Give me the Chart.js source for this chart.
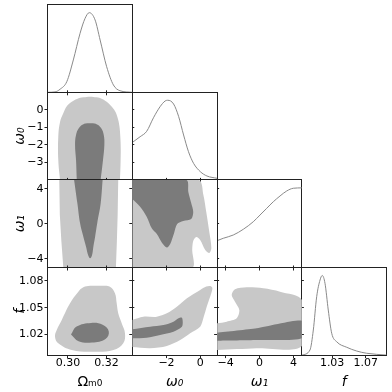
<!DOCTYPE html>
<html>
<head>
<meta charset="utf-8">
<script src="https://cdn.jsdelivr.net/npm/chart.js@4.4.1/dist/chart.umd.min.js"></script>
<style>
  html, body { margin: 0; padding: 0; background: #fff; }
  #wrap { position: relative; width: 392px; height: 392px; overflow: hidden; }
  #wrap canvas { position: absolute; left: 0; top: 0; }
</style>
</head>
<body>
<div id="wrap"></div>
<script>
// tick values
const omTicks = [0.30, 0.32];
const w0TicksX = [-2, 0];
const w0TicksY = [0, -1, -2, -3];
const w1Ticks = [-4, 0, 4];
const fTicksX = [1.03, 1.07];
const fTicksY = [1.02, 1.05, 1.08];

// 1D marginals (x, relative density)
const omCurveX = [0.2894, 0.2933, 0.2959, 0.2994, 0.3028, 0.3063, 0.3089, 0.3111, 0.3141, 0.3167, 0.3201, 0.3236, 0.3270, 0.3334];
const omCurveY = [0, 0.005, 0.038, 0.133, 0.406, 0.741, 0.929, 1.0, 0.908, 0.657, 0.321, 0.092, 0.02, 0];
const w0CurveX = [-4.02, -3.56, -3.17, -2.77, -2.38, -2.08, -1.93, -1.58, -1.28, -0.99, -0.70, -0.40, 0.0, 0.39, 0.99];
const w0CurveY = [0.47, 0.542, 0.61, 0.78, 0.919, 0.991, 1.0, 0.953, 0.794, 0.564, 0.354, 0.208, 0.103, 0.049, 0.02];
const w1CurveX = [-5, -4.27, -3.09, -1.91, -0.73, 0.06, 0.85, 1.63, 2.42, 3.21, 3.99, 5];
const w1CurveY = [0.337, 0.367, 0.408, 0.48, 0.575, 0.659, 0.743, 0.826, 0.898, 0.961, 0.995, 1.0];
const fCurveX = [0.994, 1.0036, 1.0076, 1.0116, 1.0156, 1.0183, 1.0215, 1.0254, 1.0295, 1.0354, 1.0474, 1.0593, 1.0712, 1.095];
const fCurveY = [0, 0.064, 0.315, 0.733, 0.943, 1.0, 0.902, 0.566, 0.274, 0.168, 0.098, 0.051, 0.023, 0];

// 2D contours, outer (95%) and inner (68%)
const omW0Outer = [[0.2959, -4.01], [0.2950, -2.87], [0.2950, -1.53], [0.2959, -0.69], [0.2976, -0.19], [0.2995, 0.23], [0.3020, 0.47], [0.3047, 0.63], [0.3080, 0.72], [0.3115, 0.76], [0.3149, 0.72], [0.3177, 0.63], [0.3201, 0.47], [0.3224, 0.23], [0.3244, -0.06], [0.3257, -0.42], [0.3267, -0.92], [0.3272, -1.57], [0.3274, -2.23], [0.3273, -3.09], [0.3270, -4.01]];
const omW0Inner = [[0.3046, -4.01], [0.3042, -2.87], [0.3037, -2.01], [0.3042, -1.44], [0.3057, -1.04], [0.3083, -0.81], [0.3115, -0.77], [0.3146, -0.81], [0.3172, -1.04], [0.3186, -1.44], [0.3189, -2.01], [0.3182, -2.87], [0.3170, -4.01]];
const omW1Outer = [[0.2955, 5], [0.2958, 1], [0.2966, -2], [0.2976, -5], [0.3249, -5], [0.3254, -2], [0.3258, 1], [0.3261, 5]];
const omW1Inner = [[0.3032, 5], [0.3049, 2.33], [0.3063, 0.05], [0.3080, -1.48], [0.3094, -2.63], [0.3105, -3.6], [0.3115, -3.95], [0.3125, -3.6], [0.3132, -2.63], [0.3141, -1.48], [0.3152, 0.05], [0.3170, 2.33], [0.3180, 5]];
const omFOuter = [[0.3115, 1.0745], [0.3080, 1.0728], [0.3054, 1.0679], [0.3011, 1.0549], [0.2968, 1.0363], [0.2942, 1.0251], [0.2933, 1.0176], [0.2950, 1.0102], [0.3020, 1.0027], [0.3132, 1.0008], [0.3236, 1.0027], [0.3287, 1.0102], [0.3296, 1.0214], [0.3279, 1.0326], [0.3261, 1.0437], [0.3253, 1.0549], [0.3244, 1.0661], [0.3218, 1.0735], [0.3170, 1.0745], [0.3115, 1.0745]];
const omFInner = [[0.3016, 1.0200], [0.3045, 1.0290], [0.3120, 1.0330], [0.3180, 1.0310], [0.3212, 1.0235], [0.3195, 1.0150], [0.3125, 1.0110], [0.3055, 1.0125], [0.3016, 1.0200]];
const w0W1Outer = [[-4.02, 5], [-0.10, 5], [0.18, 3.28], [0.35, 1.34], [0.53, -0.95], [0.65, -2.78], [0.53, -3.35], [0.29, -3.0], [-0.01, -1.86], [-0.24, -1.52], [-0.42, -1.97], [-0.48, -3.0], [-0.48, -5], [-4.02, -5]];
const w0W1Inner = [[-4.02, 5], [-0.83, 5], [-0.71, 3.62], [-0.54, 2.36], [-0.42, 1.34], [-0.54, 0.54], [-1.01, 0.31], [-1.37, -0.03], [-1.55, -1.06], [-1.78, -2.32], [-1.98, -2.72], [-2.26, -2.2], [-2.57, -1.18], [-2.87, -0.53], [-3.17, 0.80], [-3.56, 1.94], [-4.02, 2.82]];
const w0FOuter = [[-4.02, 1.0363], [-3.37, 1.0399], [-2.57, 1.0399], [-1.98, 1.0437], [-1.39, 1.0511], [-0.79, 1.0605], [-0.01, 1.0698], [0.35, 1.0737], [0.59, 1.0743], [0.71, 1.0721], [0.65, 1.0665], [0.41, 1.0530], [0.18, 1.0385], [-0.01, 1.0288], [-0.60, 1.0214], [-1.19, 1.0139], [-1.98, 1.0072], [-2.97, 1.0046], [-4.02, 1.0060]];
const w0FInner = [[-4.02, 1.0258], [-2.97, 1.0288], [-2.18, 1.0307], [-1.59, 1.0344], [-1.29, 1.0382], [-1.09, 1.0388], [-1.04, 1.0340], [-1.09, 1.0288], [-1.59, 1.0232], [-2.38, 1.0195], [-3.17, 1.0164], [-4.02, 1.0158]];
const w1FOuter = [[-5, 1.0326], [-3.87, 1.0344], [-2.69, 1.0382], [-2.38, 1.0474], [-2.89, 1.0567], [-3.28, 1.0642], [-2.89, 1.0706], [-1.51, 1.0728], [0.45, 1.0717], [2.42, 1.0679], [5, 1.0586], [5, 1.0072], [-0.33, 1.0046], [-5, 1.0027]];
const w1FInner = [[-5, 1.0220], [-0.33, 1.0270], [5, 1.0355], [5, 1.0158], [-0.33, 1.0139], [-5, 1.0131]];

// axis ranges per column (x) and per row (y); diagonal panels use densityRange
const xRanges = [[0.2894, 0.3334], [-4.02, 0.99], [-5, 5], [0.994, 1.095]];
const yRanges = [[0, 1.1], [-4.01, 1.01], [-5, 5], [0.997, 1.095]];
const densityRange = [0, 1.1];
const xTickSets = [omTicks, w0TicksX, w1Ticks, fTicksX];
const yTickSets = [null, w0TicksY, w1Ticks, fTicksY];
const xTitles = ['Ωₘ₀', 'ω₀', 'ω₁', 'f'];
const yTitles = ['', 'ω₀', 'ω₁', 'f'];

// layout
const colLeft = [47.5, 132.3, 217.1, 301.9];
const rowTop = [4.7, 92.3, 179.9, 267.5];
const PW = 84.8, PH = 87.6;
const YW = 47, XH = 36.5;
const FONT = "'DejaVu Sans', sans-serif";
const LIGHT = '#c8c8c8', DARK = '#7b7b7b', AXIS = '#222';

const wrap = document.getElementById('wrap');

function fmtTick(v, col) {
    let s;
    if (col === 0 || col === 3) s = v.toFixed(2);
    else s = String(v);
    return s.replace('-', '\u2212');
}

function axis(pos, range, ticks, o) {
    o = o || {};
    const horiz = pos === 'bottom' || pos === 'top';
    const tl = o.tickLen || 0;
    return {
        type: 'linear',
        position: pos,
        min: range[0],
        max: range[1],
        afterBuildTicks: function (s) {
            if (ticks) s.ticks = ticks.map(v => ({ value: v }));
        },
        afterFit: function (s) {
            if (horiz) s.height = pos === 'bottom' ? XH : 0;
            else s.width = pos === 'left' ? YW : 0;
            s.paddingLeft = 0; s.paddingRight = 0; s.paddingTop = 0; s.paddingBottom = 0;
        },
        grid: { drawOnChartArea: false, drawTicks: tl > 0, tickLength: tl, tickColor: AXIS, tickWidth: 1 },
        border: { display: true, color: AXIS, width: 1 },
        ticks: {
            display: !!o.labels,
            autoSkip: false,
            maxRotation: 0,
            padding: horiz ? -0.5 : 1,
            color: '#000',
            font: { family: FONT, size: 11, lineHeight: 1 },
            callback: function (v) { return fmtTick(v, o.col); }
        },
        title: o.title ? {
            display: true,
            text: o.title,
            color: '#000',
            font: { family: FONT, size: 14, style: o.title.startsWith('Ω') ? 'normal' : 'italic' },
            padding: horiz ? { top: 0, bottom: 1 } : { top: 11, bottom: 0 }
        } : { display: false }
    };
}

function pts(xs, ys) {
    return xs.map((x, i) => ({ x: x, y: ys[i] }));
}

function poly(arr) {
    return arr.map(p => ({ x: p[0], y: p[1] }));
}

// Chart.js paints the first dataset last, so inner contours go first
function region(arr, color, tension) {
    return {
        data: poly(arr),
        backgroundColor: color,
        borderColor: color,
        borderWidth: 0,
        pointRadius: 0,
        fill: 'shape',
        tension: tension,
        xAxisID: 'x',
        yAxisID: 'y'
    };
}

function curve(xs, ys) {
    return {
        data: pts(xs, ys),
        borderColor: '#8a8a8a',
        borderWidth: 1,
        pointRadius: 0,
        fill: false,
        cubicInterpolationMode: 'monotone',
        xAxisID: 'x',
        yAxisID: 'y'
    };
}

function makePanel(r, c, datasets) {
    const cv = document.createElement('canvas');
    cv.width = 392;
    cv.height = 392;
    wrap.appendChild(cv);
    const is2D = r !== c;
    const L = colLeft[c], T = rowTop[r];
    const yRange = is2D ? yRanges[r] : densityRange;
    const scales = {
        x: axis('bottom', xRanges[c], xTickSets[c], {
            tickLen: 3, labels: r === 3, col: c, title: r === 3 ? xTitles[c] : ''
        }),
        y: axis('left', yRange, is2D ? yTickSets[r] : null, {
            tickLen: is2D ? 3 : 0, labels: is2D && c === 0, col: r, title: (is2D && c === 0) ? yTitles[r] : ''
        }),
        xt: axis('top', xRanges[c], xTickSets[c], { tickLen: is2D ? 2 : 0 }),
        yr: axis('right', yRange, is2D ? yTickSets[r] : null, { tickLen: is2D ? 2 : 0 })
    };
    new Chart(cv, {
        type: 'line',
        data: { datasets: datasets },
        options: {
            responsive: false,
            animation: false,
            devicePixelRatio: 1,
            events: [],
            layout: {
                padding: { left: L - YW, top: T, right: 392 - L - PW, bottom: 392 - T - PH - XH }
            },
            plugins: { legend: { display: false }, tooltip: { enabled: false } },
            scales: scales
        }
    });
}

// diagonal
makePanel(0, 0, [curve(omCurveX, omCurveY)]);
makePanel(1, 1, [curve(w0CurveX, w0CurveY)]);
makePanel(2, 2, [curve(w1CurveX, w1CurveY)]);
makePanel(3, 3, [curve(fCurveX, fCurveY)]);

// off-diagonal
makePanel(1, 0, [region(omW0Inner, DARK, 0.4), region(omW0Outer, LIGHT, 0.4)]);
makePanel(2, 0, [region(omW1Inner, DARK, 0.4), region(omW1Outer, LIGHT, 0)]);
makePanel(2, 1, [region(w0W1Inner, DARK, 0.3), region(w0W1Outer, LIGHT, 0.3)]);
makePanel(3, 0, [region(omFInner, DARK, 0.4), region(omFOuter, LIGHT, 0.4)]);
makePanel(3, 1, [region(w0FInner, DARK, 0.3), region(w0FOuter, LIGHT, 0.3)]);
makePanel(3, 2, [region(w1FInner, DARK, 0.2), region(w1FOuter, LIGHT, 0.3)]);
</script>
</body>
</html>
